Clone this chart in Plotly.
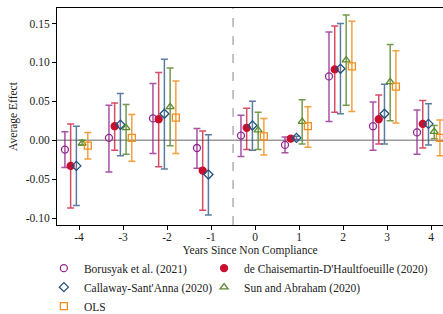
import plotly.graph_objects as go

periods = [-4, -3, -2, -1, 0, 1, 2, 3, 4]

# Borusyak et al. (2021)
bor_est = [-0.012, 0.003, 0.028, -0.010, 0.006, -0.006, 0.082, 0.018, 0.010]
bor_hi  = [0.011, 0.045, 0.073, 0.015, 0.032, 0.004, 0.139, 0.049, 0.039]
bor_lo  = [-0.035, -0.041, -0.017, -0.036, -0.021, -0.016, 0.024, -0.013, -0.018]

# de Chaisemartin-D'Haultfoeuille (2020)
dcdh_est = [-0.033, 0.018, 0.027, -0.039, 0.016, 0.002, 0.091, 0.027, 0.021]
dcdh_hi  = [0.021, 0.048, 0.087, 0.012, 0.041, 0.004, 0.147, 0.058, 0.051]
dcdh_lo  = [-0.087, -0.013, -0.034, -0.090, -0.012, 0.000, 0.036, -0.005, -0.010]

# Callaway-Sant'Anna (2020)
cs_est = [-0.033, 0.020, 0.034, -0.044, 0.019, 0.003, 0.092, 0.034, 0.021]
cs_hi  = [0.018, 0.060, 0.104, 0.007, 0.050, 0.005, 0.150, 0.072, 0.047]
cs_lo  = [-0.084, -0.020, -0.037, -0.096, -0.013, 0.001, 0.034, -0.005, -0.006]

# Sun and Abraham (2020) - no estimate at -1
sa_periods = [-4, -3, -2, 0, 1, 2, 3, 4]
sa_est = [-0.004, 0.016, 0.043, 0.013, 0.024, 0.103, 0.075, 0.011]
sa_hi  = [0.000, 0.046, 0.093, 0.036, 0.052, 0.161, 0.123, 0.019]
sa_lo  = [-0.006, -0.018, -0.007, -0.012, -0.005, 0.045, 0.025, 0.002]

# OLS - no estimate at -1
ols_periods = [-4, -3, -2, 0, 1, 2, 3, 4]
ols_est = [-0.007, 0.003, 0.029, 0.005, 0.018, 0.095, 0.069, 0.003]
ols_hi  = [0.010, 0.033, 0.076, 0.028, 0.043, 0.153, 0.115, 0.026]
ols_lo  = [-0.024, -0.027, -0.017, -0.019, -0.009, 0.037, 0.022, -0.020]

x_ticks = [-4, -3, -2, -1, 0, 1, 2, 3, 4]
y_ticks = [-0.10, -0.05, 0.00, 0.05, 0.10, 0.15]

FONT = "Liberation Serif"

series = [
    ("Borusyak et al. (2021)", periods, bor_est, bor_hi, bor_lo, -0.32,
     "#93278F", "rgba(147,39,143,0.8)", "circle-open", "legend"),
    ("de Chaisemartin-D'Haultfoeuille (2020)", periods, dcdh_est, dcdh_hi, dcdh_lo, -0.19,
     "#C8102E", "rgba(200,16,46,0.75)", "circle", "legend2"),
    ("Callaway-Sant'Anna (2020)", periods, cs_est, cs_hi, cs_lo, -0.06,
     "#24507F", "rgba(36,80,127,0.75)", "diamond-open", "legend"),
    ("Sun and Abraham (2020)", sa_periods, sa_est, sa_hi, sa_lo, 0.07,
     "#5A8A2E", "rgba(90,138,46,0.85)", "triangle-up-open", "legend2"),
    ("OLS", ols_periods, ols_est, ols_hi, ols_lo, 0.20,
     "#F28E1C", "rgba(242,142,28,0.85)", "square-open", "legend"),
]

fig = go.Figure()
for name, px, est, hi, lo, off, col, ecol, sym, leg in series:
    fig.add_trace(go.Scatter(
        x=[p + off for p in px], y=est, mode="markers", name=name, legend=leg,
        marker=dict(symbol=sym, size=7, color=col, line=dict(width=1.3, color=col)),
        error_y=dict(type="data", symmetric=False,
                     array=[h - e for h, e in zip(hi, est)],
                     arrayminus=[e - l for e, l in zip(est, lo)],
                     color=ecol, thickness=1.5, width=3.5),
    ))

fig.add_hline(y=0, line=dict(color="#999999", width=1.5), layer="below")
fig.add_vline(x=-0.5, line=dict(color="#888888", width=1, dash="dash"), layer="below")

legend_common = dict(orientation="v", xanchor="left", yanchor="top",
                     font=dict(family=FONT, size=11.5, color="#222222"),
                     itemwidth=30, bgcolor="rgba(0,0,0,0)")
fig.update_layout(
    width=443, height=314,
    margin=dict(l=57, r=0, t=8, b=89, autoexpand=False),
    paper_bgcolor="white", plot_bgcolor="white",
    font=dict(family=FONT, size=11.5, color="#222222"),
    showlegend=True,
    legend=dict(x=-0.034, y=-0.132, **legend_common),
    legend2=dict(x=0.381, y=-0.132, **legend_common),
)
fig.update_xaxes(
    range=[-4.5, 4.27], tickvals=x_ticks, ticktext=[str(t) for t in x_ticks],
    showgrid=False, zeroline=False, showline=True, linecolor="black", linewidth=1,
    mirror=True, ticks="outside", ticklen=4, tickcolor="black", automargin=False,
    ticklabeloverflow="allow", ticklabelstandoff=-3,
    title=dict(text="Years Since Non Compliance", standoff=4, font=dict(size=11.5)),
    tickfont=dict(size=11.5),
)
fig.update_yaxes(
    range=[-0.109, 0.170], tickvals=y_ticks, ticktext=["%.2f" % t for t in y_ticks],
    showgrid=False, zeroline=False, showline=True, linecolor="black", linewidth=1,
    ticks="outside", ticklen=4, tickcolor="black", automargin=False,
    title=dict(text="Average Effect", standoff=5, font=dict(size=11.5)),
    tickfont=dict(size=11.5),
)

fig.write_html("out.html", config={"displayModeBar": False},
               post_script="document.body.style.margin='0px';document.body.style.padding='0px';")
